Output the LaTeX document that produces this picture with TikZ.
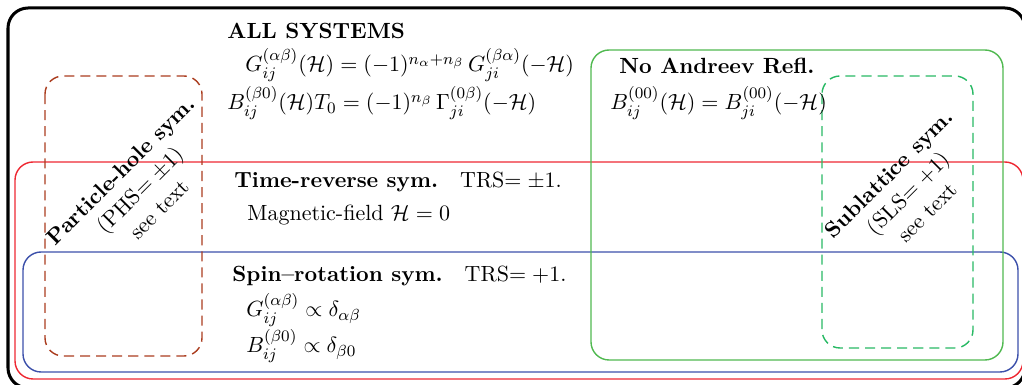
\documentclass[11pt,tikz,border=0pt]{standalone}
\usepackage{amsmath}
\usepackage{amssymb}
\usepackage{tikz}

\definecolor{trsred}{RGB}{238,40,50}
\definecolor{spinblue}{RGB}{60,80,170}
\definecolor{andgreen}{RGB}{80,185,80}
\definecolor{slsgreen}{RGB}{40,185,100}
\definecolor{phsbrown}{RGB}{170,60,30}

\begin{document}
\begin{tikzpicture}[
    x=0.498pt, y=-0.498pt,
    region/.style={rounded corners=9pt, line width=0.7pt},
    dashregion/.style={region, dash pattern=on 5pt off 3pt},
    lbl/.style={anchor=base west, inner sep=0pt},
    rotlbl/.style={rotate=45, align=center, inner sep=0pt}
    ]

    \clip (0,0) rectangle (1022,385);

    % regions
    \draw[line width=1.5pt, rounded corners=10pt] (8,8) rectangle (1025,388);
    \draw[region, trsred] (15,162) rectangle (1023,379);
    \draw[region, spinblue] (23,252) rectangle (1018,372);
    \draw[region, andgreen] (591,50) rectangle (1003,360);
    \draw[dashregion, slsgreen] (822,76) rectangle (973,348);
    \draw[dashregion, phsbrown] (45,76) rectangle (202,356);

    % all systems
    \node[lbl] (all) at (227,39) {\textbf{ALL SYSTEMS}};
    \node[lbl] (alleqa) at (245,72) {$G_{ij}^{(\alpha\beta)}(\mathcal{H}) = (-1)^{n_\alpha+n_\beta}\,G_{ji}^{(\beta\alpha)}(-\mathcal{H})$};
    \node[lbl] (alleqb) at (227,110) {$B_{ij}^{(\beta0)}(\mathcal{H})T_0 = (-1)^{n_\beta}\,\Gamma_{ji}^{(0\beta)}(-\mathcal{H})$};

    % no andreev reflection
    \node[lbl] (andreev) at (619,74) {\textbf{No Andreev Refl.}};
    \node[lbl] (andreeveq) at (610,110) {$B_{ij}^{(00)}(\mathcal{H}) = B_{ji}^{(00)}(-\mathcal{H})$};

    % time reversal
    \node[lbl] (trs) at (234,188) {\textbf{Time-reverse sym.}\quad TRS$=\pm1$.};
    \node[lbl] (trseq) at (247,221) {Magnetic-field $\mathcal{H}=0$};

    % spin rotation
    \node[lbl] (spin) at (232,282) {\textbf{Spin--rotation sym.}\quad TRS$=+1$.};
    \node[lbl] (spineqa) at (246,317) {$G_{ij}^{(\alpha\beta)}\propto\delta_{\alpha\beta}$};
    \node[lbl] (spineqb) at (246,353) {$B_{ij}^{(\beta0)}\propto\delta_{\beta0}$};

    % rotated labels
    \node[rotlbl] (phs) at (140,190) {\textbf{Particle-hole sym.}\\(PHS$=\pm1$)\\see text};
    \node[rotlbl] (sls) at (908,193) {\textbf{Sublattice sym.}\\(SLS$=+1$)\\see text};

\end{tikzpicture}
\end{document}
